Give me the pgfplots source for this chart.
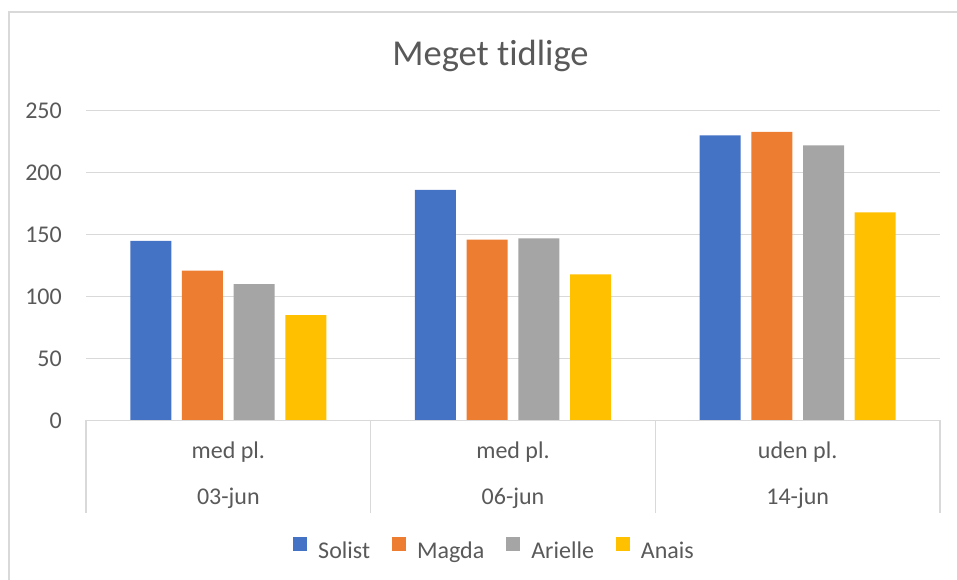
\documentclass[border=0pt]{standalone}
\usepackage{pgfplots}
\pgfplotsset{compat=1.18}
\usepackage{pgfplotstable}
\usepackage{fontspec}
\setmainfont{Carlito}[Ligatures={NoCommon}]
\definecolor{cBlue}{HTML}{4472C4}
\definecolor{cOrange}{HTML}{ED7D31}
\definecolor{cGray}{HTML}{A5A5A5}
\definecolor{cGold}{HTML}{FFC000}
\definecolor{gridc}{HTML}{D9D9D9}
\definecolor{txt}{HTML}{595959}
\pgfplotstableread{
x Solist Magda Arielle Anais
0 145 121 110 85
1 186 146 147 118
2 230 233 222 168
}\data
\begin{document}
\begin{tikzpicture}[x=1bp,y=1bp]
\path[use as bounding box] (0,0) rectangle (957,580);
\draw[gridc, line width=1.5bp] (9,0) -- (9,568) -- (957,568);
\node[anchor=base, font=\fontsize{36.5bp}{40bp}\selectfont, text=txt, inner sep=0pt] at (490.5,514.3) {Meget tidlige};
\begin{axis}[
  at={(86bp,159.5bp)}, anchor=south west,
  scale only axis, width=854bp, height=309.8bp,
  xmin=-0.5, xmax=2.5, ymin=0, ymax=250,
  ytick={0,50,100,150,200,250},
  xtick={0,1,2}, xticklabels={med pl.,med pl.,uden pl.},
  major tick length=0pt,
  axis line style={draw=none},
  ymajorgrids, grid style={gridc, line width=1.5bp},
  ybar=10.7bp, bar width=41bp,
  clip=false,
  /pgf/number format/assume math mode=true,
  tick label style={font=\fontsize{24bp}{28bp}\selectfont, text=txt, inner sep=0pt},
  yticklabel style={anchor=east, xshift=-24bp},
  xticklabel style={anchor=base, yshift=-38.5bp},
  legend columns=4,
  legend style={at={(0.4772,-0.4131)}, anchor=center, draw=none, fill=none,
    font=\fontsize{24bp}{28bp}\selectfont, text=txt, inner sep=0pt,
    nodes={inner sep=0pt},
    /tikz/every odd column/.append style={column sep=11bp},
    /tikz/every even column/.append style={column sep=22bp}},
  legend image code/.code={\fill[#1] (0bp,0bp) rectangle (14bp,14bp);},
]
\addplot[fill=cBlue, draw=none] table[x=x, y=Solist] {\data};
\addplot[fill=cOrange, draw=none] table[x=x, y=Magda] {\data};
\addplot[fill=cGray, draw=none] table[x=x, y=Arielle] {\data};
\addplot[fill=cGold, draw=none] table[x=x, y=Anais] {\data};
\legend{Solist,Magda,Arielle,Anais}
\draw[gridc, line width=1.5bp] (axis cs:-0.5,0) -- (axis cs:2.5,0);
\draw[gridc, line width=1.5bp] (axis cs:-0.5,0) -- ++(0pt,-92.5bp);
\draw[gridc, line width=1.5bp] (axis cs:0.5,0) -- ++(0pt,-92.5bp);
\draw[gridc, line width=1.5bp] (axis cs:1.5,0) -- ++(0pt,-92.5bp);
\draw[gridc, line width=1.5bp] (axis cs:2.5,0) -- ++(0pt,-92.5bp);
\node[anchor=base, font=\fontsize{24bp}{28bp}\selectfont, text=txt, inner sep=0pt, yshift=-84.5bp] at (axis cs:0,0) {03-jun};
\node[anchor=base, font=\fontsize{24bp}{28bp}\selectfont, text=txt, inner sep=0pt, yshift=-84.5bp] at (axis cs:1,0) {06-jun};
\node[anchor=base, font=\fontsize{24bp}{28bp}\selectfont, text=txt, inner sep=0pt, yshift=-84.5bp] at (axis cs:2,0) {14-jun};
\end{axis}
\end{tikzpicture}
\end{document}
